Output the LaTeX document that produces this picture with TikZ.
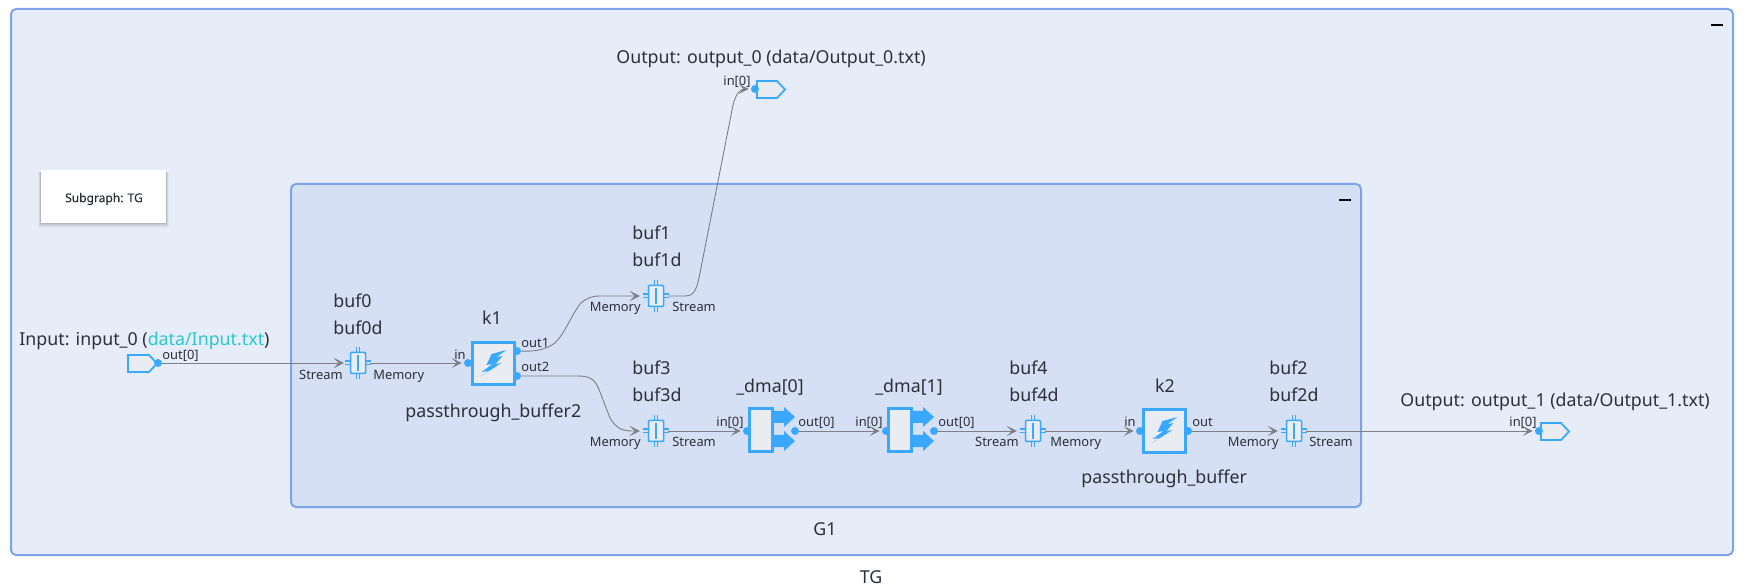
\documentclass[tikz,border=0pt]{standalone}
\usepackage{fontspec}
\setmainfont{Noto Sans}
\usetikzlibrary{arrows.meta}
\definecolor{outerfill}{HTML}{E6EDF9}
\definecolor{innerfill}{HTML}{D5E0F4}
\definecolor{frameblue}{HTML}{7FA3E8}
\definecolor{iconblue}{HTML}{3AA8FF}
\definecolor{iconfill}{HTML}{E9EDF2}
\definecolor{inkc}{HTML}{2B303B}
\definecolor{linkc}{HTML}{2CC6CC}
\definecolor{edgec}{HTML}{7C7F86}
\tikzset{
  frame/.style={draw=frameblue,line width=1pt,rounded corners=2.5pt},
  big/.style={font=\fontsize{8.9}{11}\selectfont,text=inkc,inner sep=0pt,text height=8.8pt,text depth=2pt},
  small/.style={font=\fontsize{6.45}{8}\selectfont,text=inkc,inner sep=0pt,text height=6pt,text depth=1.4pt},
  port/.style={circle,fill=iconblue,draw=none,minimum size=4pt,inner sep=0pt},
  kernel/.style={rectangle,draw=iconblue,fill=iconfill,line width=1.5pt,minimum width=21pt,minimum height=21pt,inner sep=0pt},
  dmabox/.style={rectangle,draw=iconblue,fill=iconfill,line width=1.5pt,minimum width=11.5pt,minimum height=21pt,inner sep=0pt},
  bufbody/.style={rectangle,draw=iconblue,fill=iconfill,line width=.75pt,minimum width=7.5pt,minimum height=10.5pt,inner sep=0pt,rounded corners=.5pt},
  bufpin/.style={draw=iconblue,line width=.7pt},
  ioshape/.style={draw=iconblue,fill=iconfill,line width=.9pt,line join=miter},
  conn/.style={draw=edgec,line width=.45pt,-{Stealth[length=5pt,width=5pt,inset=2.5pt]},shorten >=1pt},
}
\newcommand{\bufIcon}[3]{%
  \node[bufbody] (#1) at (#2,#3) {};
  \draw[bufpin] ([xshift=-.8pt]#1.north) -- ++(0,2.2pt) ([xshift=.8pt]#1.north) -- ++(0,2.2pt)
    ([xshift=-.8pt]#1.south) -- ++(0,-2.2pt) ([xshift=.8pt]#1.south) -- ++(0,-2.2pt)
    ([yshift=-.9pt]#1.west) -- ++(-2.2pt,0) ([yshift=.9pt]#1.west) -- ++(-2.2pt,0)
    ([yshift=-.9pt]#1.east) -- ++(2.2pt,0) ([yshift=.9pt]#1.east) -- ++(2.2pt,0);
  \draw[draw=iconblue,line width=.75pt] ([yshift=1.6pt]#1.south) -- ([yshift=-1.6pt]#1.north);
}
\newcommand{\boltIcon}[1]{%
  \fill[iconblue,shift={(#1)}] (13,-14) -- (-2,-10) -- (-7,1) -- (-1,0) -- (-12,8) -- (-5,7) -- (-14,13) -- (8,-1) -- (2,0) -- (9,-8) -- (3,-7) -- cycle;
}
\newcommand{\dmaArrow}[2]{%
  \fill[iconblue] (#1,#2-6) -- (#1+10,#2-6) -- (#1+10,#2-10) -- (#1+21,#2) -- (#1+10,#2+10) -- (#1+10,#2+6) -- (#1,#2+6) -- cycle;
}
\begin{document}
\begin{tikzpicture}[x=.5pt,y=-.5pt]
\useasboundingbox (0,0) rectangle (1747,588);
\fill[white] (0,0) rectangle (1747,588);
% frames
\draw[frame,fill=outerfill] (11,9) rectangle (1733,555);
\draw[frame,fill=innerfill] (291,184) rectangle (1361,507);
\fill[black] (1711,24) rectangle (1723,26.5);
\fill[black] (1339,199) rectangle (1351,201.5);
\foreach \s/\o in {5/.025,4/.035,3/.045,2/.055,1/.07}{
  \fill[black,opacity=\o] (41-.6*\s,172) rectangle (166+.6*\s,223+\s);
}
\node[rectangle,fill=white,minimum width=62.5pt,minimum height=26.5pt,inner sep=0pt] (sub) at (103.5,196.5) {};
\node[font=\fontsize{6}{8}\selectfont,text=inkc,inner sep=0pt] (subt) at (104,199) {\addfontfeature{FakeBold=.4}Subgraph: TG};
\node[big] (g1) at (825,529) {G1};
\node[big] (tg) at (871,577) {TG};

% ports and icons
\draw[ioshape] (128,355) -- (149,355) -- (157,363.5) -- (149,372) -- (128,372) -- cycle;
\node[port] (inp) at (158,363) {};
\bufIcon{buf0}{358}{363}
\node[kernel] (k1) at (493.5,364) {};
\boltIcon{493.5,364}
\node[port] (k1in) at (468,363) {};
\node[port] (k1o1) at (517,351) {};
\node[port] (k1o2) at (517,376) {};
\bufIcon{buf1}{656}{296}
\bufIcon{buf3}{656}{431}
\draw[ioshape] (757,81) -- (777,81) -- (785,89.5) -- (777,98) -- (757,98) -- cycle;
\node[port] (o0) at (755,89) {};
\dmaArrow{774}{417}
\dmaArrow{774}{441}
\node[dmabox] (d0) at (761,430) {};
\node[port] (d0i) at (747,431) {};
\node[port] (d0o) at (795,431) {};
\dmaArrow{913}{417}
\dmaArrow{913}{441}
\node[dmabox] (d1) at (900,430) {};
\node[port] (d1i) at (886,431) {};
\node[port] (d1o) at (934,431) {};
\bufIcon{buf4}{1033}{431}
\node[kernel] (k2) at (1164.5,431) {};
\boltIcon{1164.5,431}
\node[port] (k2i) at (1140,431) {};
\node[port] (k2o) at (1188,431) {};
\bufIcon{buf2}{1294}{431}
\draw[ioshape] (1541,423) -- (1561,423) -- (1569,431.5) -- (1561,440) -- (1541,440) -- cycle;
\node[port] (o1) at (1539,431) {};

% connectors
\draw[conn] (inp) -- ([xshift=-2pt]buf0.west);
\draw[conn] ([xshift=2pt]buf0.east) -- (k1in);
\draw[conn] (k1o1) .. controls (535,351.5) and (545,350) .. (555,343) .. controls (565,333) and (570,318) .. (580,304) .. controls (586,298) and (592,296) .. (600,296) -- ([xshift=-3pt]buf1.west);
\draw[conn] ([xshift=2pt]buf1.east) -- (685,296) .. controls (695,296) and (697,288) .. (700,273) -- (733,105) .. controls (736,93) and (741,89) .. (o0);
\draw[conn] (k1o2) -- (578,376) .. controls (592,376) and (596,381) .. (600,392) -- (610,418) .. controls (616,428) and (622,431) .. (632,431) -- ([xshift=-3pt]buf3.west);
\draw[conn] ([xshift=2pt]buf3.east) -- (d0i);
\draw[conn] (d0o) -- (d1i);
\draw[conn] (d1o) -- ([xshift=-3pt]buf4.west);
\draw[conn] ([xshift=2pt]buf4.east) -- (k2i);
\draw[conn] (k2o) -- ([xshift=-3pt]buf2.west);
\draw[conn] ([xshift=2pt]buf2.east) -- (o1);

% labels
\node[big,anchor=west] (linput) at (19,339) {Input: input\_0 ({\color{linkc}data/Input.txt})};
\node[big,anchor=west] (lo0) at (616,57) {Output: output\_0 (data/Output\_0.txt)};
\node[big,anchor=west] (lo1) at (1400,400) {Output: output\_1 (data/Output\_1.txt)};
\node[big,anchor=west] at (333,301) {buf0};
\node[big,anchor=west] at (333,328) {buf0d};
\node[big] at (492,318) {k1};
\node[big,anchor=west] at (405,411) {passthrough\_buffer2};
\node[big,anchor=west] at (632,233) {buf1};
\node[big,anchor=west] at (632,260) {buf1d};
\node[big,anchor=west] at (632,368) {buf3};
\node[big,anchor=west] at (632,395) {buf3d};
\node[big] at (770,386) {\_dma[0]};
\node[big] at (909,386) {\_dma[1]};
\node[big,anchor=west] at (1009,368) {buf4};
\node[big,anchor=west] at (1009,395) {buf4d};
\node[big] at (1165,386) {k2};
\node[big,anchor=west] at (1081,477) {passthrough\_buffer};
\node[big,anchor=west] at (1269,368) {buf2};
\node[big,anchor=west] at (1269,395) {buf2d};

\node[small,anchor=west] at (162,355) {out[0]};
\node[small,anchor=east] at (343,375) {Stream};
\node[small,anchor=west] at (373,375) {Memory};
\node[small,anchor=east] at (466,355) {in};
\node[small,anchor=west] at (521,343) {out1};
\node[small,anchor=west] at (521,367) {out2};
\node[small,anchor=east] at (641,307) {Memory};
\node[small,anchor=west] at (672,307) {Stream};
\node[small,anchor=east] at (751,81) {in[0]};
\node[small,anchor=east] at (641,442) {Memory};
\node[small,anchor=west] at (672,442) {Stream};
\node[small,anchor=east] at (744,422) {in[0]};
\node[small,anchor=west] at (798,422) {out[0]};
\node[small,anchor=east] at (883,422) {in[0]};
\node[small,anchor=west] at (938,422) {out[0]};
\node[small,anchor=east] at (1019,442) {Stream};
\node[small,anchor=west] at (1050,442) {Memory};
\node[small,anchor=east] at (1136,422) {in};
\node[small,anchor=west] at (1192,422) {out};
\node[small,anchor=east] at (1279,442) {Memory};
\node[small,anchor=west] at (1309,442) {Stream};
\node[small,anchor=east] at (1537,422) {in[0]};
\end{tikzpicture}
\end{document}
